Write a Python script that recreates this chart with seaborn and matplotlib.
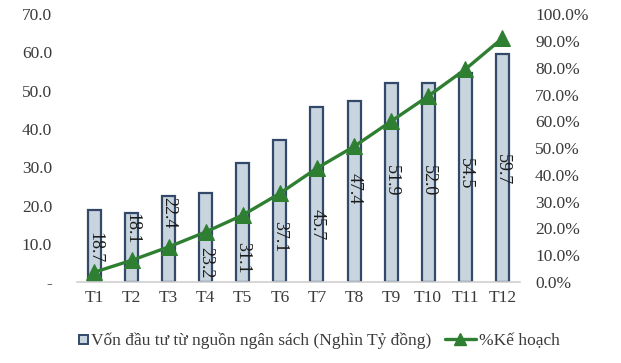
import matplotlib
matplotlib.use("Agg")
import matplotlib.pyplot as plt
import seaborn as sns
import pandas as pd
from matplotlib.ticker import FuncFormatter
from matplotlib.patches import Patch, Rectangle
from matplotlib.lines import Line2D
from matplotlib.legend_handler import HandlerPatch

months = ["T1", "T2", "T3", "T4", "T5", "T6", "T7", "T8", "T9", "T10", "T11", "T12"]
capital = [18.7, 18.1, 22.4, 23.2, 31.1, 37.1, 45.7, 47.4, 51.9, 52.0, 54.5, 59.7]
plan_pct = [3.7, 8.1, 13.1, 18.7, 25.0, 33.1, 42.5, 50.6, 60.0, 69.4, 79.4, 91.0]
# vertical placement (data units) of the value label inside each bar
label_y = [9.1, 13.8, 18.0, 5.0, 6.3, 11.8, 14.9, 24.3, 26.6, 26.6, 28.2, 29.5]

bar_label = "Vốn đầu tư từ nguồn ngân sách (Nghìn Tỷ đồng)"
line_label = "%Kế hoạch"

sns.set_theme(style="white")
plt.rcParams["font.family"] = ["Liberation Serif", "DejaVu Serif"]

BAR_FILL = "#c8d5df"
BAR_EDGE = "#34496a"
GREEN = "#2f7f32"
TEXT = "#3a3a3a"
FS = 12.5

df = pd.DataFrame({"month": months, "capital": capital, "plan": plan_pct})

fig = plt.figure(figsize=(6.21, 3.63), dpi=100)
ax = fig.add_axes([0.124, 0.223, 0.713, 0.738])

sns.barplot(data=df, x="month", y="capital", ax=ax, color=BAR_FILL,
            edgecolor=BAR_EDGE, linewidth=1.6, width=0.35, saturation=1)
ax.set_ylim(0, 70)
ax.set_xlim(-0.47, 11.47)
ax.set_yticks(range(0, 71, 10))
ax.yaxis.set_major_formatter(FuncFormatter(lambda v, p: "-" if v == 0 else f"{v:.1f}"))
ax.set_xlabel("")
ax.set_ylabel("")
for s in ["top", "right", "left"]:
    ax.spines[s].set_visible(False)
ax.spines["bottom"].set_color("#d0d0d0")
ax.spines["bottom"].set_linewidth(1.2)
ax.tick_params(axis="both", length=0, labelsize=FS, labelcolor=TEXT)
ax.tick_params(axis="y", pad=18)
ax.tick_params(axis="x", pad=6)

for i, (v, y) in enumerate(zip(capital, label_y)):
    ax.text(i, y, f"{v:.1f}", rotation=270, ha="center", va="center",
            fontsize=13, color="#1a1a1a")

ax2 = ax.twinx()
sns.lineplot(data=df, x="month", y="plan", ax=ax2, color=GREEN, linewidth=2.4,
             marker="^", markersize=11, markeredgecolor=GREEN, sort=False)
ax2.set_ylim(0, 100)
ax2.set_yticks(range(0, 101, 10))
ax2.yaxis.set_major_formatter(FuncFormatter(lambda v, p: f"{v:.1f}%"))
ax2.set_ylabel("")
for s in ["top", "right", "left", "bottom"]:
    ax2.spines[s].set_visible(False)
ax2.tick_params(axis="y", length=0, labelsize=FS, labelcolor=TEXT, pad=11)


def square_patch(legend, orig_handle, xdescent, ydescent, width, height, fontsize):
    s = height * 0.7
    return Rectangle((width - xdescent - s, -ydescent + (height - s) / 2), s, s)


handles = [Patch(facecolor=BAR_FILL, edgecolor=BAR_EDGE, linewidth=1.4),
           Line2D([0], [0], color=GREEN, linewidth=2.4, marker="^", markersize=8)]
fig.legend(handles, [bar_label, line_label], loc="center", ncol=2,
           bbox_to_anchor=(0.496, 0.06), frameon=False, fontsize=FS,
           handlelength=1.8, handletextpad=0.15, columnspacing=0.8,
           labelcolor=TEXT,
           handler_map={Patch: HandlerPatch(patch_func=square_patch)})

fig.savefig("out.png", dpi=100)
